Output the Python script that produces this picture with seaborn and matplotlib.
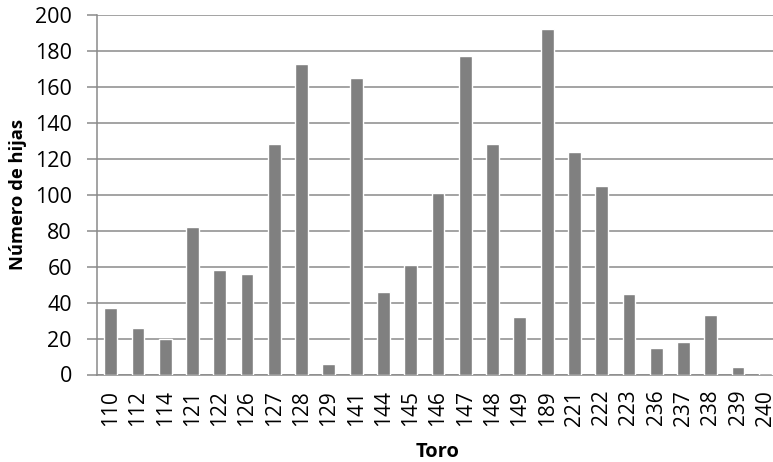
import matplotlib
matplotlib.use("Agg")
import matplotlib.pyplot as plt
import seaborn as sns
import pandas as pd

toros = ["110", "112", "114", "121", "122", "126", "127", "128", "129", "141",
         "144", "145", "146", "147", "148", "149", "189", "221", "222", "223",
         "236", "237", "238", "239", "240"]
hijas = [37, 26, 20, 82, 58, 56, 128, 173, 6, 165,
         46, 61, 101, 177, 128, 32, 192, 124, 105, 45,
         15, 18, 33, 4, 1]
y_ticks = [0, 20, 40, 60, 80, 100, 120, 140, 160, 180, 200]
x_title = "Toro"
y_title = "Número de hijas"

df = pd.DataFrame({"Toro": toros, "Hijas": hijas})

sns.set_theme(style="white")
plt.rcParams['font.family'] = ['Open Sans', 'DejaVu Sans']

fig = plt.figure(figsize=(7.73, 4.62), dpi=100)
ax = fig.add_axes([97 / 773, 1 - 374.5 / 462, (779 - 97) / 773, (374.5 - 15) / 462])

sns.barplot(data=df, x="Toro", y="Hijas", color="#808080", saturation=1,
            width=0.47, ax=ax, zorder=3)

ax.set_ylim(0, 200)
ax.set_xlim(-0.5, len(toros) - 0.5)
ax.set_yticks(y_ticks)
ax.yaxis.grid(True, color="#8a8a8a", linewidth=1.1, zorder=0)
ax.set_axisbelow(True)
for s in ["top", "right"]:
    ax.spines[s].set_visible(False)
for s in ["left", "bottom"]:
    ax.spines[s].set_color("#8a8a8a")
    ax.spines[s].set_linewidth(1.1)
ax.tick_params(axis="y", length=7, width=1.1, color="#8a8a8a", direction="out",
               labelsize=15.5, pad=11, left=True)
ax.tick_params(axis="x", length=0, labelsize=15, pad=11, rotation=90)
for lbl in ax.get_xticklabels() + ax.get_yticklabels():
    lbl.set_color("black")
ax.set_xlabel(x_title, fontsize=14.5, fontweight="bold", color="black", labelpad=12)
ax.set_ylabel(y_title, fontsize=13.2, fontweight="bold", color="black", labelpad=6)

fig.savefig("out.png", dpi=100)
